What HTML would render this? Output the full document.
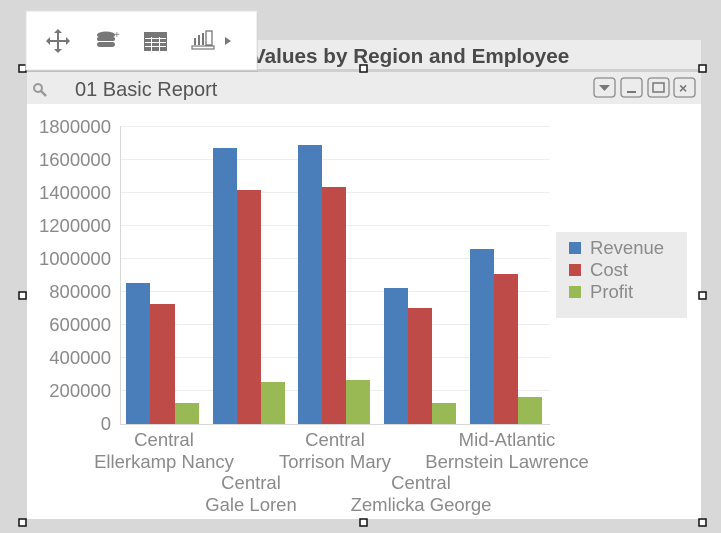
<!DOCTYPE html>
<html><head><style>
html,body{margin:0;padding:0;width:721px;height:533px;overflow:hidden;background:#d8d8d8;font-family:"Liberation Sans",sans-serif}
</style></head><body>
<svg width="721" height="533" xmlns="http://www.w3.org/2000/svg" font-family="Liberation Sans, sans-serif">
<rect x="0" y="0" width="721" height="533" fill="#d8d8d8"/>
<rect x="27" y="40" width="674" height="30" fill="#ececec"/>
<text x="252" y="63" font-size="20.7" font-weight="bold" fill="#4a4a4a">Values by Region and Employee</text>
<rect x="27" y="69" width="674" height="3" fill="#cfcfcf"/>
<rect x="27" y="72" width="674" height="32" fill="#ececec"/>
<circle cx="38" cy="88" r="4" fill="none" stroke="#999" stroke-width="2"/>
<line x1="41" y1="91" x2="46" y2="96" stroke="#999" stroke-width="2.5"/>
<text x="75" y="96" font-size="20" fill="#555">01 Basic Report</text>
<g fill="#ececec" stroke="#8a8a8a" stroke-width="1.3">
<rect x="594" y="78" width="21" height="19" rx="3"/>
<rect x="621" y="78" width="21" height="19" rx="3"/>
<rect x="648" y="78" width="21" height="19" rx="3"/>
<rect x="674" y="78" width="21" height="19" rx="3"/>
</g>
<polygon points="599,85 610,85 604.5,91" fill="#777"/>
<rect x="627" y="91" width="9" height="2" fill="#777"/>
<rect x="653" y="83" width="11" height="9" fill="none" stroke="#777" stroke-width="1.5"/>
<text x="679" y="93" font-size="14" font-weight="bold" fill="#777">×</text>
<rect x="27" y="104" width="674" height="415" fill="#fff"/>
<g stroke="#eeeeee" stroke-width="1">
<line x1="120" y1="126.5" x2="550" y2="126.5"/>
<line x1="120" y1="159.5" x2="550" y2="159.5"/>
<line x1="120" y1="192.5" x2="550" y2="192.5"/>
<line x1="120" y1="225.5" x2="550" y2="225.5"/>
<line x1="120" y1="258.5" x2="550" y2="258.5"/>
<line x1="120" y1="291.5" x2="550" y2="291.5"/>
<line x1="120" y1="324.5" x2="550" y2="324.5"/>
<line x1="120" y1="357.5" x2="550" y2="357.5"/>
<line x1="120" y1="390.5" x2="550" y2="390.5"/>
</g>
<g font-size="18.5" fill="#8a8a8a" text-anchor="end">
<text x="111" y="133">1800000</text>
<text x="111" y="166">1600000</text>
<text x="111" y="199">1400000</text>
<text x="111" y="232">1200000</text>
<text x="111" y="265">1000000</text>
<text x="111" y="298">800000</text>
<text x="111" y="331">600000</text>
<text x="111" y="364">400000</text>
<text x="111" y="397">200000</text>
<text x="111" y="430">0</text>
</g>
<g fill="#4a7ebb">
<rect x="126" y="283" width="24" height="141"/>
<rect x="213" y="148" width="24" height="276"/>
<rect x="298" y="145" width="24" height="279"/>
<rect x="384" y="288" width="24" height="136"/>
<rect x="470" y="249" width="24" height="175"/>
</g>
<g fill="#be4b48">
<rect x="150" y="304" width="25" height="120"/>
<rect x="237" y="190" width="24" height="234"/>
<rect x="322" y="187" width="24" height="237"/>
<rect x="408" y="308" width="24" height="116"/>
<rect x="494" y="274" width="24" height="150"/>
</g>
<g fill="#98b954">
<rect x="175" y="403" width="24" height="21"/>
<rect x="261" y="382" width="24" height="42"/>
<rect x="346" y="380" width="24" height="44"/>
<rect x="432" y="403" width="24" height="21"/>
<rect x="518" y="397" width="24" height="27"/>
</g>
<line x1="120.5" y1="126" x2="120.5" y2="424" stroke="#d8d8d8"/>
<line x1="120" y1="424.5" x2="550" y2="424.5" stroke="#d8d8d8"/>
<g font-size="18.5" fill="#8a8a8a" text-anchor="middle">
<text x="164" y="446">Central</text>
<text x="164" y="468">Ellerkamp Nancy</text>
<text x="251" y="489">Central</text>
<text x="251" y="511">Gale Loren</text>
<text x="335" y="446">Central</text>
<text x="335" y="468">Torrison Mary</text>
<text x="421" y="489">Central</text>
<text x="421" y="511">Zemlicka George</text>
<text x="507" y="446">Mid-Atlantic</text>
<text x="507" y="468">Bernstein Lawrence</text>
</g>
<rect x="556" y="232" width="131" height="86" fill="#ebebeb"/>
<rect x="569" y="242" width="12" height="12" fill="#4a7ebb"/>
<rect x="569" y="264" width="12" height="12" fill="#be4b48"/>
<rect x="569" y="286" width="12" height="12" fill="#98b954"/>
<g font-size="18.5" fill="#8a8a8a">
<text x="590" y="254">Revenue</text>
<text x="590" y="276">Cost</text>
<text x="590" y="298">Profit</text>
</g>
<g fill="#fff" stroke="#111" stroke-width="1.5">
<rect x="19" y="65" width="7" height="7"/>
<rect x="360" y="65" width="7" height="7"/>
<rect x="699" y="65" width="7" height="7"/>
<rect x="19" y="292" width="7" height="7"/>
<rect x="699" y="292" width="7" height="7"/>
<rect x="19" y="519" width="7" height="7"/>
<rect x="360" y="519" width="7" height="7"/>
<rect x="699" y="519" width="7" height="7"/>
</g>
<rect x="27" y="13" width="231" height="59" fill="#000" opacity="0.08"/>
<rect x="26" y="11" width="231" height="59" fill="#fff" stroke="#e0e0e0"/>
<g stroke="#777" stroke-width="2" fill="none">
<line x1="48" y1="41" x2="68" y2="41"/><line x1="58" y1="31" x2="58" y2="51"/>
</g>
<g fill="#777">
<polygon points="46,41 50,37 50,45"/><polygon points="70,41 66,37 66,45"/>
<polygon points="58,29 54,33 62,33"/><polygon points="58,53 54,49 62,49"/>
<ellipse cx="106" cy="35" rx="9" ry="3.5"/>
<rect x="97" y="37" width="18" height="4" rx="2"/>
<rect x="97" y="42" width="18" height="5" rx="2.5"/>
<text x="114" y="38" font-size="10">+</text>
<rect x="144" y="32" width="23" height="19"/>
<polygon points="225,37 231,41 225,45"/>
</g>
<g stroke="#fff" stroke-width="1">
<line x1="145" y1="38.5" x2="166" y2="38.5"/><line x1="145" y1="42.5" x2="166" y2="42.5"/><line x1="145" y1="46.5" x2="166" y2="46.5"/>
<line x1="151.5" y1="37" x2="151.5" y2="51"/><line x1="159.5" y1="37" x2="159.5" y2="51"/>
</g>
<g fill="#777">
<rect x="194" y="38" width="2" height="7"/><rect x="198" y="35" width="2" height="10"/><rect x="202" y="33" width="2" height="12"/>
<rect x="206" y="31" width="6" height="14" fill="none" stroke="#777" stroke-width="1.3"/>
<rect x="192" y="46" width="22" height="3" fill="none" stroke="#777" stroke-width="1.2"/>
</g>
</svg>
</body></html>
